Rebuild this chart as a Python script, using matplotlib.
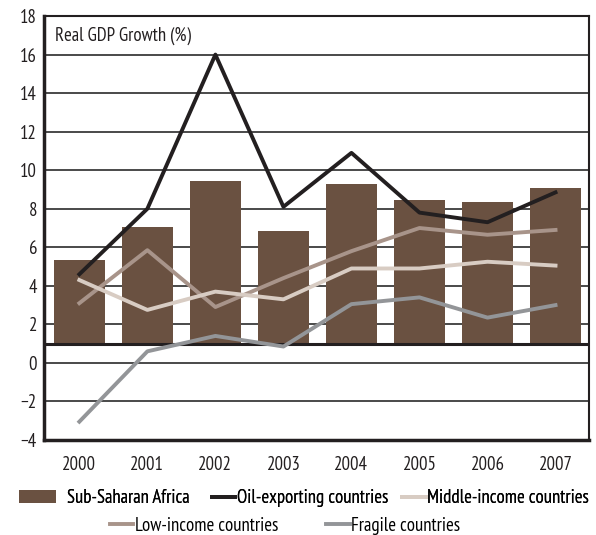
import matplotlib
matplotlib.use("Agg")
import matplotlib.pyplot as plt
from matplotlib.patches import Patch
from matplotlib.lines import Line2D

plt.rcParams['font.family'] = ['PT Sans Narrow', 'DejaVu Sans']

years = ['2000', '2001', '2002', '2003', '2004', '2005', '2006', '2007']
ssa = [5.35, 7.05, 9.45, 6.85, 9.3, 8.45, 8.35, 9.1]
oil = [4.6, 8.0, 16.0, 8.1, 10.9, 7.8, 7.3, 8.85]
middle = [4.3, 2.75, 3.7, 3.3, 4.9, 4.9, 5.25, 5.05]
low = [3.1, 5.85, 2.9, 4.4, 5.8, 7.0, 6.65, 6.9]
fragile = [-3.05, 0.6, 1.4, 0.85, 3.05, 3.4, 2.35, 3.0]
bar_base = 1.0

c_bar = '#6a5141'
c_oil = '#231f20'
c_mid = '#d8ccc3'
c_low = '#a8948a'
c_frag = '#939598'

W, H = 596, 535
fig = plt.figure(figsize=(W / 100, H / 100), dpi=100)
ax = fig.add_axes([0.0738, 0.1776, 0.9142, 0.7924])

x = list(range(len(years)))
ax.set_ylim(-4, 18)
ax.set_xlim(-0.52, 7.49)
ax.set_yticks(range(-4, 19, 2))
ax.set_yticklabels([str(v).replace('-', '\u2212') for v in range(-4, 19, 2)])
ax.yaxis.grid(True, color='#4a4a4a', linewidth=1.4)
ax.set_axisbelow(True)

ax.bar(x, [v - bar_base for v in ssa], bottom=bar_base, width=0.75,
       color=c_bar, zorder=2)
ax.axhline(bar_base, color=c_oil, linewidth=2.2, zorder=3)

lw = 2.8
ax.plot(x, fragile, color=c_frag, linewidth=lw, zorder=4)
ax.plot(x, low, color=c_low, linewidth=lw, zorder=4)
ax.plot(x, middle, color=c_mid, linewidth=lw, zorder=5)
ax.plot(x, oil, color=c_oil, linewidth=lw, zorder=6)

for s in ax.spines.values():
    s.set_color(c_oil)
    s.set_linewidth(1.5)
ax.spines['left'].set_linewidth(2.5)
ax.spines['bottom'].set_linewidth(2.5)

fs = 13.5
ax.set_xticks(x)
ax.set_xticklabels(years)
ax.tick_params(axis='both', length=0, labelsize=fs, colors='#231f20')
ax.tick_params(axis='x', pad=11.5)
ax.tick_params(axis='y', pad=5)

ax.text(0.02, 0.975, 'Real GDP Growth (%)', transform=ax.transAxes,
        ha='left', va='top', fontsize=fs, color='#231f20')

# Legend: built from a few small legends so each group sits where it should
common = dict(loc='center left', frameon=False, fontsize=fs, borderpad=0,
              borderaxespad=0)
y1, y2 = 0.069, 0.017

leg_bar = fig.legend([Patch(facecolor=c_bar, edgecolor='none')],
                     ['Sub-Saharan Africa'], bbox_to_anchor=(19 / W, y1),
                     handlelength=1.95, handletextpad=0.6, **common)
leg_row1 = fig.legend([Line2D([], [], color=c_oil, linewidth=lw),
                       Line2D([], [], color=c_mid, linewidth=lw)],
                      ['Oil-exporting countries', 'Middle-income countries'],
                      bbox_to_anchor=(212 / W, y1), ncol=2,
                      handlelength=1.25, handletextpad=0.08,
                      columnspacing=0.75, **common)
leg_row2 = fig.legend([Line2D([], [], color=c_low, linewidth=lw),
                       Line2D([], [], color=c_frag, linewidth=lw)],
                      ['Low-income countries', 'Fragile countries'],
                      bbox_to_anchor=(110 / W, y2), ncol=2,
                      handlelength=1.25, handletextpad=0.08,
                      columnspacing=2.55, **common)
fig.add_artist(leg_bar)
fig.add_artist(leg_row1)

fig.savefig('out.png', dpi=100)
